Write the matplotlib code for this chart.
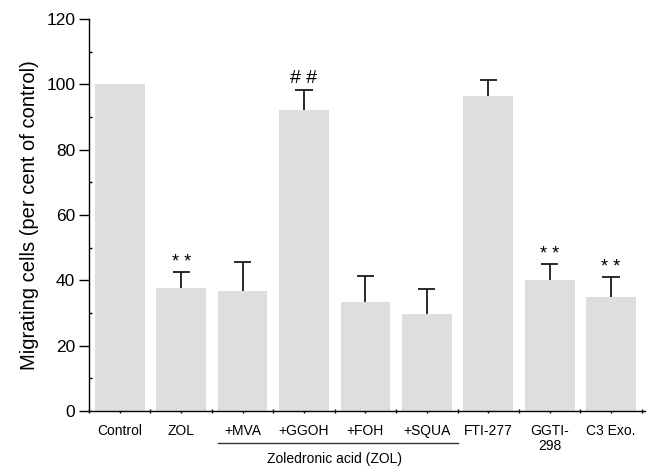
import matplotlib
matplotlib.use("Agg")
import matplotlib.pyplot as plt
from matplotlib.ticker import MultipleLocator

plt.rcParams['font.family'] = ['Liberation Sans', 'DejaVu Sans']

categories = ["Control", "ZOL", "+MVA", "+GGOH", "+FOH", "+SQUA", "FTI-277", "GGTI-\n298", "C3 Exo."]
values = [100, 37.6, 36.8, 92.3, 33.4, 29.8, 96.4, 40.1, 35.0]
errors = [0, 5.0, 8.8, 6.0, 7.8, 7.6, 4.9, 5.0, 6.0]
marks = ["", "* *", "", "# #", "", "", "", "* *", "* *"]
group_label = "Zoledronic acid (ZOL)"

fig = plt.figure(figsize=(6.5, 4.67), dpi=100)
ax = fig.add_axes([0.137, 0.12, 0.856, 0.839])

x = list(range(len(categories)))
ax.bar(x, values, width=0.81, color="#dedede", zorder=2)
cap = 0.14
for xi, v, e in zip(x, values, errors):
    if e > 0:
        ax.vlines(xi, v, v + e, color='#1a1a1a', lw=1.3, zorder=3)
        ax.hlines(v + e, xi - cap, xi + cap, color='#1a1a1a', lw=1.3, zorder=3)
for xi, v, e, m in zip(x, values, errors, marks):
    if m:
        fs = 14 if m.startswith('#') else 13
        off = 1.0 if m.startswith('#') else 0.3
        ax.text(xi, v + e + off, m, ha='center', va='bottom', fontsize=fs)

ax.set_xlim(-0.49, 8.56)
ax.set_ylim(0, 120)
ax.yaxis.set_major_locator(MultipleLocator(20))
ax.yaxis.set_minor_locator(MultipleLocator(10))
ax.tick_params(axis='y', which='major', direction='out', length=7, width=1, labelsize=12.5, pad=3)
ax.tick_params(axis='y', which='minor', direction='in', length=2, width=1)
ax.set_xticks(x)
ax.set_xticklabels(categories, fontsize=10, va='top', linespacing=1.05)
ax.set_xticks([i + 0.5 for i in range(-1, 9)], minor=True)
ax.tick_params(axis='x', which='major', direction='inout', length=3, width=1, pad=8)
ax.tick_params(axis='x', which='minor', direction='inout', length=3, width=1)
for s in ['top', 'right']:
    ax.spines[s].set_visible(False)
ax.spines['left'].set_linewidth(1)
ax.spines['bottom'].set_linewidth(1)
ax.set_ylabel("Migrating cells (per cent of control)", fontsize=14.5, labelpad=5)

# group line and label
trans = ax.get_xaxis_transform()
ax.plot([1.6, 5.5], [-0.082, -0.082], color='#333333', lw=1, transform=trans, clip_on=False)
ax.text(3.5, -0.1225, group_label, ha='center', va='center', fontsize=10, transform=trans)

fig.savefig("out.png", dpi=100)
